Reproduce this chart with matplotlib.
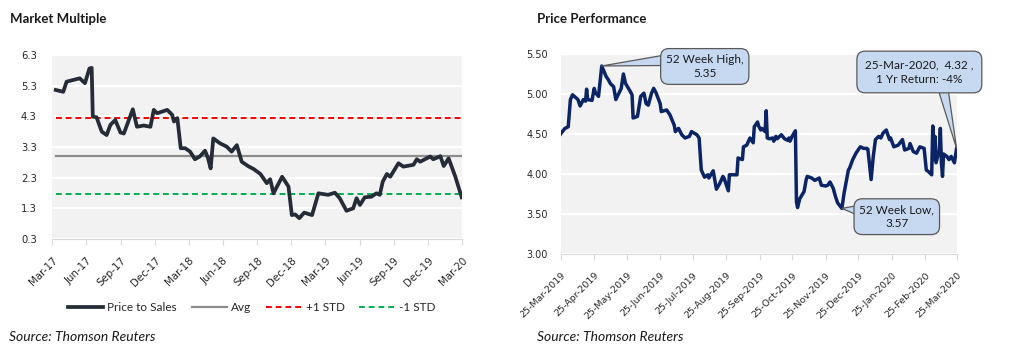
import matplotlib
matplotlib.use("Agg")
import matplotlib.pyplot as plt
import matplotlib.dates as mdates
import matplotlib.transforms as mtransforms
import numpy as np
import pandas as pd

plt.rcParams['font.family'] = ['Lato', 'DejaVu Sans']

# ---- Market Multiple: price to sales ----
ps_dates = ["2017-03-11", "2017-03-31", "2017-04-09", "2017-05-14", "2017-05-28",
            "2017-06-09", "2017-06-15", "2017-06-18", "2017-06-28", "2017-07-12",
            "2017-07-25", "2017-08-04", "2017-08-17", "2017-08-31", "2017-09-09",
            "2017-10-03", "2017-10-14", "2017-11-01", "2017-11-19", "2017-11-28",
            "2017-12-07", "2018-01-03", "2018-01-16", "2018-01-21", "2018-01-30",
            "2018-02-08", "2018-02-20", "2018-03-05", "2018-03-18", "2018-03-31",
            "2018-04-14", "2018-04-22", "2018-04-29", "2018-05-06", "2018-05-24",
            "2018-06-11", "2018-06-24", "2018-07-08", "2018-07-21", "2018-08-08",
            "2018-08-22", "2018-09-09", "2018-09-26", "2018-10-05", "2018-10-14",
            "2018-11-06", "2018-11-23", "2018-12-02", "2018-12-11", "2018-12-22",
            "2019-01-04", "2019-01-25", "2019-02-11", "2019-03-09", "2019-03-27",
            "2019-04-09", "2019-04-27", "2019-05-15", "2019-05-24", "2019-06-02",
            "2019-06-15", "2019-07-03", "2019-07-16", "2019-07-25", "2019-08-02",
            "2019-08-13", "2019-08-22", "2019-09-13", "2019-09-26", "2019-10-23",
            "2019-11-01", "2019-11-10", "2019-12-07", "2019-12-15", "2020-01-03",
            "2020-01-12", "2020-01-25", "2020-02-12", "2020-02-29"]
ps_values = [5.16, 5.10, 5.43, 5.54, 5.38,
             5.86, 5.88, 4.29, 4.27, 3.80,
             3.69, 4.02, 4.18, 3.77, 3.74,
             4.53, 3.96, 4.00, 3.96, 4.51,
             4.40, 4.51, 4.35, 4.13, 4.24,
             3.26, 3.26, 3.15, 2.90, 2.99,
             3.18, 2.93, 2.60, 3.58, 3.42,
             3.31, 3.15, 3.36, 2.82, 2.67,
             2.58, 2.42, 2.12, 2.25, 1.79,
             2.33, 2.01, 1.08, 1.10, 0.98,
             1.16, 1.08, 1.79, 1.74, 1.81,
             1.63, 1.22, 1.30, 1.63, 1.41,
             1.66, 1.68, 1.79, 1.74, 2.17,
             2.42, 2.33, 2.77, 2.66, 2.72,
             2.90, 2.82, 2.99, 2.90, 3.00,
             2.68, 2.93, 2.33, 1.66]
ps_avg = 3.0
ps_std = 1.23
ps_ticks = pd.date_range("2017-03-01", "2020-03-01", freq="3MS")

# ---- Price Performance ----
px_dates = ["2019-03-25", "2019-03-26", "2019-03-29", "2019-04-01", "2019-04-03",
            "2019-04-05", "2019-04-10", "2019-04-12", "2019-04-15", "2019-04-17",
            "2019-04-18", "2019-04-19", "2019-04-23", "2019-04-25", "2019-04-26",
            "2019-04-29", "2019-05-02", "2019-05-06", "2019-05-08", "2019-05-10",
            "2019-05-13", "2019-05-15", "2019-05-20", "2019-05-22", "2019-05-24",
            "2019-05-28", "2019-05-30", "2019-05-31", "2019-06-04", "2019-06-07",
            "2019-06-10", "2019-06-12", "2019-06-14", "2019-06-17", "2019-06-19",
            "2019-06-21", "2019-06-25", "2019-06-26", "2019-07-01", "2019-07-04",
            "2019-07-08", "2019-07-09", "2019-07-12", "2019-07-15", "2019-07-18",
            "2019-07-22", "2019-07-24", "2019-07-29", "2019-07-31", "2019-08-02",
            "2019-08-05", "2019-08-08", "2019-08-09", "2019-08-13", "2019-08-16",
            "2019-08-19", "2019-08-22", "2019-08-23", "2019-08-27", "2019-08-28",
            "2019-08-30", "2019-09-04", "2019-09-05", "2019-09-09", "2019-09-10",
            "2019-09-13", "2019-09-16", "2019-09-19", "2019-09-20", "2019-09-23",
            "2019-09-24", "2019-09-26", "2019-09-27", "2019-09-30", "2019-10-01",
            "2019-10-02", "2019-10-04", "2019-10-07", "2019-10-08", "2019-10-10",
            "2019-10-11", "2019-10-15", "2019-10-18", "2019-10-21", "2019-10-22",
            "2019-10-23", "2019-10-25", "2019-10-28", "2019-10-29", "2019-10-30",
            "2019-11-01", "2019-11-05", "2019-11-07", "2019-11-08", "2019-11-12",
            "2019-11-15", "2019-11-19", "2019-11-21", "2019-11-25", "2019-11-27",
            "2019-11-29", "2019-12-02", "2019-12-04", "2019-12-06", "2019-12-10",
            "2019-12-12", "2019-12-16", "2019-12-17", "2019-12-20", "2019-12-23",
            "2019-12-27", "2019-12-30", "2020-01-02", "2020-01-03", "2020-01-06",
            "2020-01-08", "2020-01-10", "2020-01-13", "2020-01-15", "2020-01-17",
            "2020-01-20", "2020-01-23", "2020-01-24", "2020-01-27", "2020-01-31",
            "2020-02-04", "2020-02-06", "2020-02-10", "2020-02-11", "2020-02-14",
            "2020-02-17", "2020-02-20", "2020-02-24", "2020-02-26", "2020-02-28",
            "2020-03-02", "2020-03-03", "2020-03-04", "2020-03-05", "2020-03-06",
            "2020-03-09", "2020-03-10", "2020-03-11", "2020-03-12", "2020-03-13",
            "2020-03-16", "2020-03-18", "2020-03-20", "2020-03-23", "2020-03-25"]
px_values = [4.50, 4.52, 4.57, 4.59, 4.93,
             4.99, 4.93, 4.85, 4.93, 4.91,
             5.06, 4.93, 4.92, 5.07, 5.02,
             4.97, 5.35, 5.22, 5.18, 5.13,
             5.09, 4.93, 5.07, 5.25, 5.13,
             5.04, 4.99, 4.70, 4.72, 4.97,
             5.01, 4.88, 4.86, 5.01, 5.07,
             5.02, 4.88, 4.78, 4.80, 4.74,
             4.61, 4.53, 4.57, 4.49, 4.45,
             4.47, 4.53, 4.49, 4.45, 4.05,
             3.96, 3.99, 3.95, 4.04, 3.81,
             3.88, 3.97, 3.95, 3.79, 3.99,
             3.99, 3.99, 4.20, 4.18, 4.34,
             4.36, 4.45, 4.39, 4.59, 4.65,
             4.60, 4.55, 4.57, 4.53, 4.79,
             4.45, 4.44, 4.45, 4.41, 4.47,
             4.44, 4.49, 4.44, 4.42, 4.45,
             4.41, 4.47, 4.54, 3.65, 3.58,
             3.69, 3.78, 3.93, 3.97, 3.95,
             3.92, 3.95, 3.86, 3.85, 3.86,
             3.90, 3.82, 3.72, 3.64, 3.57,
             3.76, 4.05, 4.07, 4.18, 4.26,
             4.34, 4.32, 4.32, 4.31, 3.93,
             4.22, 4.43, 4.47, 4.45, 4.51,
             4.55, 4.43, 4.45, 4.34, 4.36,
             4.43, 4.30, 4.32, 4.38, 4.28,
             4.26, 4.34, 4.32, 4.05, 4.03,
             3.99, 4.60, 4.18, 4.47, 4.14,
             4.30, 4.57, 4.14, 3.97, 4.25,
             4.22, 4.18, 4.22, 4.14, 4.32]
one_yr_return = -4
# ticks on the 25th of every month
px_ticks = pd.date_range("2019-03-01", "2020-03-01", freq="MS") + pd.Timedelta(days=24)

bg = "#f2f2f2"
txt = "#262626"
axis_gray = "#d9d9d9"
box_fc = "#c6d9f1"
box_ec = "#595959"


def style_axes(ax):
    ax.set_facecolor(bg)
    for s in ["left", "top", "right"]:
        ax.spines[s].set_visible(False)
    ax.spines["bottom"].set_color(axis_gray)
    ax.yaxis.grid(True, color="white", lw=1.6)
    ax.set_axisbelow(True)
    ax.tick_params(axis="y", length=0, labelcolor=txt)
    ax.tick_params(axis="x", length=4, color=axis_gray, labelcolor=txt, pad=8)
    for lab in ax.get_yticklabels() + ax.get_xticklabels():
        lab.set_family("DejaVu Sans")
    for lab in ax.get_xticklabels():
        lab.set_rotation(45)
        lab.set_ha("right")
        lab.set_va("top")
        lab.set_rotation_mode("anchor")


fig = plt.figure(figsize=(10.1, 3.63), dpi=100)

# ---------------- left chart ----------------
ax1 = fig.add_axes([0.0515, 0.3416, 0.406, 0.5069])
ps_x = pd.to_datetime(ps_dates)
span = [ps_x[0], ps_x[-1]]
l_ps, = ax1.plot(ps_x, ps_values, color="#252c37", lw=2.7, solid_joinstyle="round", zorder=4)
l_avg, = ax1.plot(span, [ps_avg, ps_avg], color="#8c8c8c", lw=1.6, zorder=3)
l_up, = ax1.plot(span, [ps_avg + ps_std] * 2, color="#ff0000", lw=1.4, ls=(0, (3, 2)), zorder=3)
l_dn, = ax1.plot(span, [ps_avg - ps_std] * 2, color="#00b050", lw=1.4, ls=(0, (3, 2)), zorder=3)
ax1.set_ylim(0.3, 6.3)
ax1.set_yticks(np.arange(0.3, 6.31, 1.0))
ax1.yaxis.set_major_formatter(matplotlib.ticker.FormatStrFormatter("%.1f"))
ax1.set_xlim(ps_ticks[0], ps_ticks[-1])
ax1.set_xticks(ps_ticks)
ax1.xaxis.set_major_formatter(mdates.DateFormatter("%b-%y"))
style_axes(ax1)
ax1.tick_params(axis="y", labelsize=7.2, pad=11)
ax1.tick_params(axis="x", labelsize=7.4)

fig.legend([l_ps, l_avg, l_up, l_dn], ["Price to Sales", "Avg", "+1 STD", "-1 STD"],
           loc="center", bbox_to_anchor=(0.249, 0.152), ncol=4, frameon=False,
           fontsize=8.5, handlelength=3.0, handletextpad=0.35, columnspacing=1.25,
           labelcolor=txt)

# ---------------- right chart ----------------
ax2 = fig.add_axes([0.5551, 0.3003, 0.392, 0.551])
px_x = pd.to_datetime(px_dates)
ax2.plot(px_x, px_values, color="#0b2466", lw=2.5, solid_joinstyle="round", zorder=4)
ax2.set_ylim(3.0, 5.5)
ax2.set_yticks(np.arange(3.0, 5.51, 0.5))
ax2.yaxis.set_major_formatter(matplotlib.ticker.FormatStrFormatter("%.2f"))
ax2.set_xlim(px_ticks[0], px_ticks[-1])
ax2.set_xticks(px_ticks)
ax2.xaxis.set_major_formatter(mdates.DateFormatter("%d-%b-%Y"))
style_axes(ax2)
ax2.tick_params(axis="y", labelsize=7, pad=9)
ax2.tick_params(axis="x", labelsize=6.8)
# the first date label is cut at the left edge of the chart image
clip = mtransforms.Bbox([[520, 0], [1010, 363]])
for lab in ax2.get_xticklabels():
    lab.set_clip_box(clip)
    lab.set_clip_on(True)

hi = int(np.argmax(px_values))
lo = int(np.argmin(px_values))
last = len(px_values) - 1

callouts = [
    (hi, f"52 Week High,\n{px_values[hi]:.2f}", (0.364, 0.9375), (0, 0.75), 0.45),
    (lo, f"52 Week Low,\n{px_values[lo]:.2f}", (0.849, 0.1865), (0, 0.75), 0.45),
    (last, f"{px_x[last].strftime('%d-%b-%Y')},  {px_values[last]:.2f} ,\n"
           f"1 Yr Return: {one_yr_return}%", (0.906, 0.91), (0.71, 0), 0.7),
]
for i, label, pos, rel, pad in callouts:
    ax2.annotate(label, xy=(px_x[i], px_values[i]), xycoords="data",
                 xytext=pos, textcoords="axes fraction", ha="center", va="center",
                 fontsize=8.5, color="#1a1a1a", zorder=6, linespacing=1.35,
                 bbox=dict(boxstyle=f"round,pad={pad},rounding_size=0.7",
                           fc=box_fc, ec=box_ec, lw=0.9),
                 arrowprops=dict(arrowstyle="wedge,tail_width=0.9,shrink_factor=0.5",
                                 fc=box_fc, ec=box_ec, lw=0.9, relpos=rel,
                                 patchA=None, shrinkA=0, shrinkB=0))

# ---------------- titles and sources ----------------
fig.text(10 / 1010, 0.948, "Market Multiple", fontsize=9.5, fontweight="bold",
         color="#1a1a1a", va="center")
fig.text(537 / 1010, 0.948, "Price Performance", fontsize=9.5, fontweight="bold",
         color="#1a1a1a", va="center")
fig.text(9 / 1010, 0.0725, "Source: Thomson Reuters", fontsize=10, fontstyle="italic",
         color="#1a1a1a", va="center")
fig.text(537 / 1010, 0.0725, "Source: Thomson Reuters", fontsize=10, fontstyle="italic",
         color="#1a1a1a", va="center")

fig.savefig("out.png", dpi=100, facecolor="white")
